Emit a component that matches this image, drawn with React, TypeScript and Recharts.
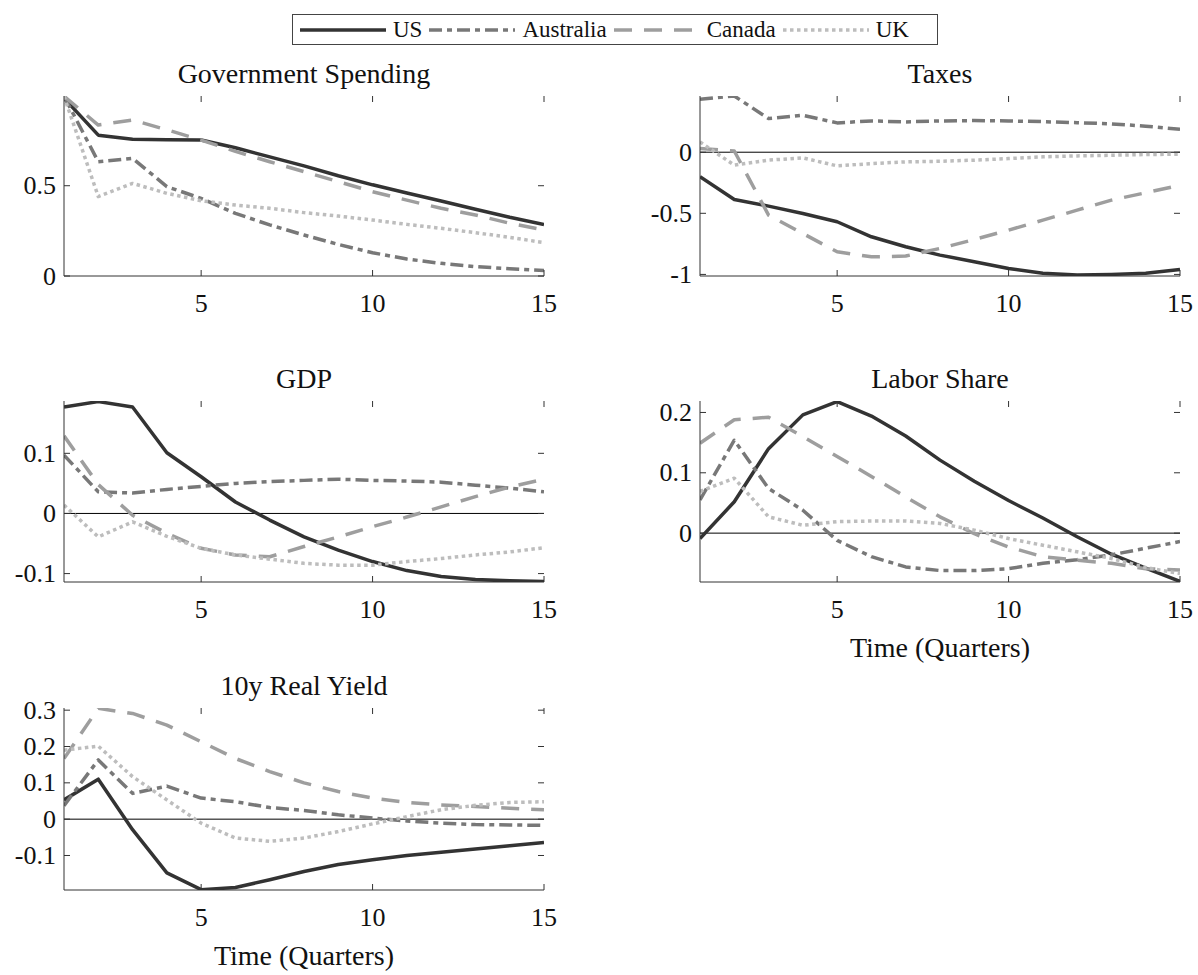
import React from 'react';
import { LineChart, Line, XAxis, YAxis, ReferenceLine } from 'recharts';

// ---------- data ----------
const quarters = [1, 2, 3, 4, 5, 6, 7, 8, 9, 10, 11, 12, 13, 14, 15];
const xTicks = [5, 10, 15];
const countries = ['US', 'Australia', 'Canada', 'UK'];

const govUS = [0.985, 0.78, 0.757, 0.755, 0.753, 0.71, 0.66, 0.61, 0.555, 0.505, 0.46, 0.415, 0.37, 0.325, 0.285];
const govAUS = [0.996, 0.633, 0.652, 0.495, 0.43, 0.347, 0.283, 0.227, 0.175, 0.129, 0.094, 0.07, 0.052, 0.04, 0.03];
const govCAN = [0.996, 0.836, 0.864, 0.81, 0.753, 0.69, 0.633, 0.578, 0.523, 0.467, 0.42, 0.375, 0.338, 0.292, 0.255];
const govUK = [0.996, 0.44, 0.513, 0.458, 0.417, 0.393, 0.375, 0.351, 0.332, 0.31, 0.286, 0.264, 0.24, 0.214, 0.185];

const taxUS = [-0.2, -0.387, -0.441, -0.501, -0.569, -0.692, -0.774, -0.842, -0.896, -0.951, -0.99, -1.005, -1.0, -0.99, -0.96];
const taxAUS = [0.433, 0.46, 0.275, 0.302, 0.24, 0.256, 0.248, 0.256, 0.259, 0.256, 0.25, 0.242, 0.232, 0.213, 0.188];
const taxCAN = [0.03, 0.01, -0.515, -0.665, -0.815, -0.856, -0.85, -0.787, -0.714, -0.638, -0.556, -0.474, -0.392, -0.332, -0.27];
const taxUK = [0.084, -0.106, -0.065, -0.046, -0.112, -0.093, -0.079, -0.074, -0.065, -0.052, -0.038, -0.03, -0.025, -0.019, -0.016];

const gdpUS = [0.177, 0.186, 0.177, 0.101, 0.061, 0.019, -0.011, -0.039, -0.061, -0.08, -0.095, -0.105, -0.11, -0.112, -0.113];
const gdpAUS = [0.097, 0.036, 0.034, 0.04, 0.045, 0.05, 0.053, 0.055, 0.057, 0.055, 0.054, 0.052, 0.047, 0.042, 0.036];
const gdpCAN = [0.129, 0.048, -0.003, -0.033, -0.058, -0.069, -0.072, -0.055, -0.039, -0.022, -0.006, 0.011, 0.028, 0.044, 0.057];
const gdpUK = [0.014, -0.039, -0.014, -0.038, -0.058, -0.069, -0.076, -0.083, -0.086, -0.086, -0.08, -0.075, -0.069, -0.064, -0.057];

const labUS = [-0.009, 0.052, 0.14, 0.196, 0.218, 0.194, 0.161, 0.121, 0.086, 0.054, 0.025, -0.006, -0.035, -0.058, -0.08];
const labAUS = [0.055, 0.154, 0.074, 0.038, -0.012, -0.039, -0.056, -0.062, -0.062, -0.059, -0.05, -0.044, -0.036, -0.025, -0.014];
const labCAN = [0.149, 0.188, 0.192, 0.16, 0.127, 0.094, 0.06, 0.027, -0.001, -0.023, -0.039, -0.045, -0.05, -0.059, -0.061];
const labUK = [0.069, 0.091, 0.027, 0.013, 0.019, 0.02, 0.02, 0.016, 0.005, -0.009, -0.02, -0.031, -0.042, -0.057, -0.067];

const ryUS = [0.053, 0.11, -0.029, -0.148, -0.194, -0.188, -0.167, -0.144, -0.125, -0.112, -0.1, -0.091, -0.082, -0.073, -0.064];
const ryAUS = [0.037, 0.163, 0.071, 0.091, 0.058, 0.048, 0.032, 0.024, 0.012, 0.003, -0.005, -0.011, -0.015, -0.016, -0.017];
const ryCAN = [0.167, 0.305, 0.291, 0.259, 0.213, 0.167, 0.131, 0.1, 0.076, 0.058, 0.046, 0.039, 0.035, 0.03, 0.026];
const ryUK = [0.19, 0.201, 0.117, 0.053, -0.011, -0.052, -0.061, -0.052, -0.034, -0.013, 0.007, 0.026, 0.038, 0.046, 0.048];

const titles = ['Government Spending', 'Taxes', 'GDP', 'Labor Share', '10y Real Yield'];
const yTicksGov = [0, 0.5];
const yTicksTax = [-1, -0.5, 0];
const yTicksGdp = [-0.1, 0, 0.1];
const yTicksLab = [0, 0.1, 0.2];
const yTicksRy = [-0.1, 0, 0.1, 0.2, 0.3];
const xLabel = 'Time (Quarters)';

// ---------- styles ----------
const FONT = '"Liberation Serif", "Times New Roman", serif';
const AXIS = '#333333';
const LW = 3.5;
const lineStyle: Record<string, { stroke: string; dash?: string }> = {
  US: { stroke: '#333333' },
  Australia: { stroke: '#787878', dash: '13 5 5 5' },
  Canada: { stroke: '#9e9e9e', dash: '18 12' },
  UK: { stroke: '#bdbdbd', dash: '3.5 3.5' },
};

const PLOT_W = 480;
const TICK_LEN = 6;

function rows(us: number[], aus: number[], can: number[], uk: number[]) {
  return quarters.map((q, i) => ({ q, US: us[i], Australia: aus[i], Canada: can[i], UK: uk[i] }));
}

type PanelDef = {
  title: string;
  data: any[];
  domain: [number, number];
  yTicks: number[];
  left: number;
  top: number;
  height: number;
  zero: boolean;
  xlabel: boolean;
};

const panels: PanelDef[] = [
  { title: titles[0], data: rows(govUS, govAUS, govCAN, govUK), domain: [0, 0.997], yTicks: yTicksGov, left: 64, top: 96, height: 180, zero: false, xlabel: false },
  { title: titles[1], data: rows(taxUS, taxAUS, taxCAN, taxUK), domain: [-1.013, 0.46], yTicks: yTicksTax, left: 700, top: 96, height: 180, zero: true, xlabel: false },
  { title: titles[2], data: rows(gdpUS, gdpAUS, gdpCAN, gdpUK), domain: [-0.114, 0.187], yTicks: yTicksGdp, left: 64, top: 401, height: 181, zero: true, xlabel: false },
  { title: titles[3], data: rows(labUS, labAUS, labCAN, labUK), domain: [-0.081, 0.219], yTicks: yTicksLab, left: 700, top: 401, height: 181, zero: true, xlabel: true },
  { title: titles[4], data: rows(ryUS, ryAUS, ryCAN, ryUK), domain: [-0.195, 0.306], yTicks: yTicksRy, left: 64, top: 708, height: 182, zero: true, xlabel: true },
];

const Y_W = 70;
const X_H = 50;
const M_TOP = 20;
const M_RIGHT = 30;

function XTick(props: any) {
  const { x, y, payload, plotH } = props;
  return (
    <g>
      <line x1={x} x2={x} y1={y} y2={y - TICK_LEN} stroke={AXIS} strokeWidth={1} />
      <line x1={x} x2={x} y1={y - plotH} y2={y - plotH + TICK_LEN} stroke={AXIS} strokeWidth={1} />
      <text x={x} y={y + 27} textAnchor="middle" dominantBaseline="central" fontFamily={FONT} fontSize={26} fill="#111">
        {String(payload.value)}
      </text>
    </g>
  );
}

function YTick(props: any) {
  const { x, y, payload } = props;
  return (
    <g>
      <line x1={x} x2={x + TICK_LEN} y1={y} y2={y} stroke={AXIS} strokeWidth={1} />
      <line x1={x + PLOT_W} x2={x + PLOT_W - TICK_LEN} y1={y} y2={y} stroke={AXIS} strokeWidth={1} />
      <text x={x - 8} y={y} textAnchor="end" dominantBaseline="central" fontFamily={FONT} fontSize={26} fill="#111">
        {String(payload.value)}
      </text>
    </g>
  );
}

function Panel({ p }: { p: PanelDef }) {
  const w = Y_W + PLOT_W + M_RIGHT;
  const h = M_TOP + p.height + X_H;
  return (
    <>
      <div
        style={{
          position: 'absolute', left: p.left, top: p.top - 39, width: PLOT_W,
          textAlign: 'center', fontFamily: FONT, fontSize: 28, lineHeight: '34px', color: '#111',
        }}
      >
        {p.title}
      </div>
      <div style={{ position: 'absolute', left: p.left - Y_W, top: p.top - M_TOP }}>
        <LineChart width={w} height={h} data={p.data} margin={{ top: M_TOP, right: M_RIGHT, bottom: 0, left: 0 }}>
          <XAxis
            dataKey="q" type="number" domain={[1, 15]} ticks={xTicks} allowDataOverflow
            height={X_H} tickSize={0} tickMargin={0} tickLine={false}
            axisLine={{ stroke: AXIS, strokeWidth: 1 }}
            tick={(tp: any) => <XTick {...tp} plotH={p.height} />}
          />
          <XAxis xAxisId="top" orientation="top" dataKey="q" type="number" domain={[1, 15]} height={0}
            tick={false} tickLine={false} axisLine={{ stroke: AXIS, strokeWidth: 1 }} />
          <YAxis
            type="number" domain={p.domain} ticks={p.yTicks} allowDataOverflow width={Y_W}
            tickSize={0} tickMargin={0} tickLine={false}
            axisLine={{ stroke: AXIS, strokeWidth: 1 }}
            tick={(tp: any) => <YTick {...tp} />}
          />
          <YAxis yAxisId="right" orientation="right" type="number" domain={p.domain} width={0}
            tick={false} tickLine={false} axisLine={{ stroke: AXIS, strokeWidth: 1 }} />
          {p.zero && <ReferenceLine y={0} stroke="#000" strokeWidth={1} />}
          {countries.map((c) => (
            <Line
              key={c} type="linear" dataKey={c} stroke={lineStyle[c].stroke} strokeWidth={LW}
              strokeDasharray={lineStyle[c].dash} dot={false} activeDot={false}
              isAnimationActive={false} strokeLinejoin="round"
            />
          ))}
        </LineChart>
      </div>
      {p.xlabel && (
        <div
          style={{
            position: 'absolute', left: p.left, top: p.top + p.height + 49, width: PLOT_W,
            textAlign: 'center', fontFamily: FONT, fontSize: 28, lineHeight: '34px', color: '#111',
          }}
        >
          {xLabel}
        </div>
      )}
    </>
  );
}

function LegendBox() {
  return (
    <div
      style={{
        position: 'absolute', left: 292, top: 14, width: 646, height: 31, boxSizing: 'border-box',
        border: '1px solid #444', background: '#fff', display: 'flex', alignItems: 'center',
        paddingLeft: 7, fontFamily: FONT, fontSize: 23, color: '#111',
      }}
    >
      {countries.map((c) => (
        <div key={c} style={{ display: 'flex', alignItems: 'center', marginRight: 7 }}>
          <svg width={86} height={10} style={{ marginRight: 7 }}>
            <line x1={0} x2={86} y1={5} y2={5} stroke={lineStyle[c].stroke} strokeWidth={LW}
              strokeDasharray={lineStyle[c].dash} />
          </svg>
          <span style={{ lineHeight: '26px' }}>{c}</span>
        </div>
      ))}
    </div>
  );
}

export default function App() {
  return (
    <div style={{ position: 'absolute', left: 0, top: 0, width: 1198, height: 975, background: '#fff', overflow: 'hidden' }}>
      <LegendBox />
      {panels.map((p) => (
        <Panel key={p.title} p={p} />
      ))}
    </div>
  );
}
